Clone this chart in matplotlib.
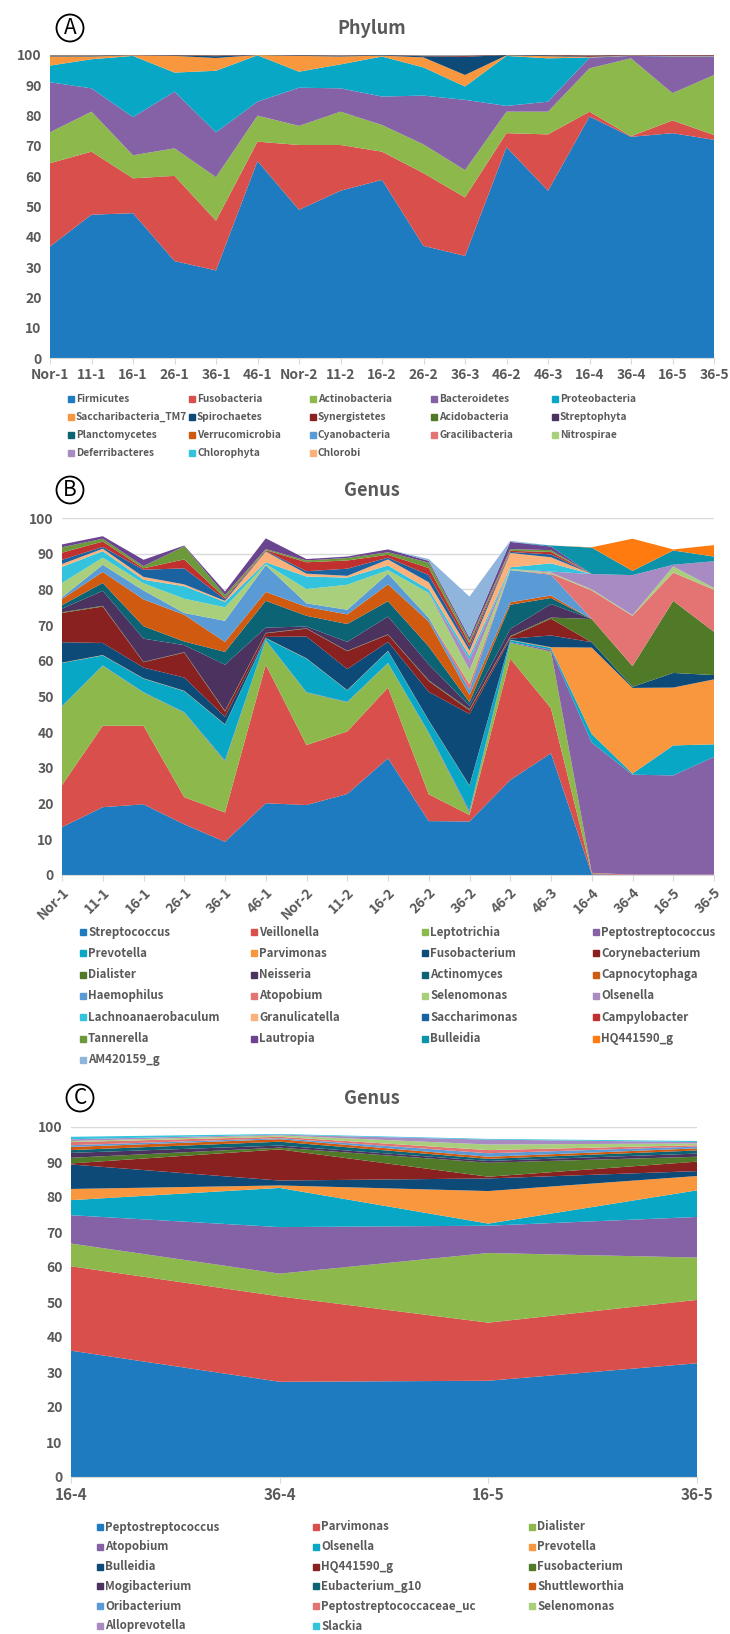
import numpy as np
import matplotlib
matplotlib.use('Agg')
import matplotlib.pyplot as plt
from matplotlib.patches import Rectangle

plt.rcParams['font.family'] = ['Noto Sans CJK SC', 'DejaVu Sans']

# ── shared palette (Excel-like series order) ────────────────────────────────
PALETTE = [
    '#1F7BBF', '#D94F4B', '#8DB94C', '#8562A6', '#08A7C6', '#F9973F',
    '#0E4A78', '#8A2121', '#507A28', '#4B325F', '#0B6373', '#D05A10',
    '#5A9BD5', '#E47474', '#A9CF7C', '#A88BC2', '#33C3DD', '#FCB07A',
    '#1B62A0', '#C0302E', '#6C9A3A', '#6B4490', '#0C93AA', '#FF7B0F',
    '#8FB5DD',
]
TEXT = '#595959'
GRID = '#D9D9D9'

# ── panel A: phylum ─────────────────────────────────────────────────────────
samples_a = ['Nor-1', '11-1', '16-1', '26-1', '36-1', '46-1', 'Nor-2', '11-2',
             '16-2', '26-2', '36-3', '46-2', '46-3', '16-4', '36-4', '16-5', '36-5']

firmicutes      = [36.8, 47.3, 47.8, 32.0, 28.9, 65.0, 48.9, 55.2, 58.8, 37.0, 33.7, 69.6, 55.2, 79.7, 73.0, 74.2, 72.0]
fusobacteria    = [27.5, 20.8, 11.5, 28.1, 16.4, 6.4, 21.4, 15.1, 9.3, 24.0, 19.3, 4.6, 18.6, 1.6, 0.2, 4.2, 1.6]
actinobacteria  = [10.2, 13.2, 7.6, 9.1, 14.4, 8.6, 6.3, 11.0, 8.8, 9.5, 9.0, 7.1, 7.5, 14.3, 25.7, 9.0, 19.8]
bacteroidetes   = [16.5, 7.7, 12.6, 18.7, 14.8, 4.6, 12.6, 7.7, 9.4, 16.1, 23.2, 1.9, 3.3, 3.5, 0.8, 12.1, 6.1]
proteobacteria  = [5.5, 9.6, 20.2, 6.3, 20.3, 15.3, 5.3, 7.9, 13.2, 9.3, 4.4, 16.5, 14.3, 0.1, 0.05, 0.1, 0.1]
tm7             = [3.0, 0.9, 0.2, 5.5, 4.2, 0.1, 5.2, 2.6, 0.3, 3.3, 3.8, 0.2, 0.7, 0.1, 0.1, 0.1, 0.1]
spirochaetes    = [0.2, 0.2, 0.05, 0.2, 0.6, 0.05, 0.2, 0.2, 0.2, 0.4, 6.0, 0.1, 0.3, 0.1, 0.05, 0.1, 0.1]
synergistetes   = [0.1, 0.1, 0.05, 0.1, 0.2, 0.05, 0.1, 0.1, 0.05, 0.1, 0.3, 0.05, 0.1, 0.4, 0.1, 0.3, 0.2]
minor_phylum    = [0.03] * 17   # Acidobacteria ... Chlorobi, each a trace

phyla = ['Firmicutes', 'Fusobacteria', 'Actinobacteria', 'Bacteroidetes', 'Proteobacteria',
         'Saccharibacteria_TM7', 'Spirochaetes', 'Synergistetes', 'Acidobacteria', 'Streptophyta',
         'Planctomycetes', 'Verrucomicrobia', 'Cyanobacteria', 'Gracilibacteria', 'Nitrospirae',
         'Deferribacteres', 'Chlorophyta', 'Chlorobi']
phylum_values = [firmicutes, fusobacteria, actinobacteria, bacteroidetes, proteobacteria,
                 tm7, spirochaetes, synergistetes] + [minor_phylum] * 10

# ── panel B: genus, all samples ─────────────────────────────────────────────
samples_b = ['Nor-1', '11-1', '16-1', '26-1', '36-1', '46-1', 'Nor-2', '11-2',
             '16-2', '26-2', '36-2', '46-2', '46-3', '16-4', '36-4', '16-5', '36-5']

streptococcus     = [13.4, 19.0, 19.8, 14.2, 9.3, 20.1, 19.6, 22.7, 32.7, 15.1, 15.0, 26.6, 34.1, 0.2, 0, 0, 0]
veillonella       = [11.8, 22.8, 22.0, 7.6, 8.2, 38.8, 16.8, 17.5, 19.8, 7.5, 1.8, 34.0, 12.6, 0.3, 0.1, 0.1, 0.1]
leptotrichia      = [22.0, 16.8, 9.3, 23.7, 14.3, 6.8, 14.7, 8.2, 6.8, 17.1, 0.7, 4.4, 15.9, 0.1, 0, 0, 0]
peptostrep_b      = [0.1, 0.1, 0.1, 0.1, 0.3, 0.1, 0.1, 0.1, 0.1, 0.2, 0.5, 0.2, 0.5, 36.5, 28.0, 27.8, 33.0]
prevotella_b      = [12.1, 2.8, 3.8, 5.9, 10.0, 0.5, 9.4, 3.2, 3.3, 3.3, 7.0, 0.6, 0.5, 2.4, 0.3, 8.4, 3.5]
parvimonas_b      = [0.1, 0.1, 0.1, 0.1, 0.1, 0.1, 0.1, 0.1, 0.1, 0.1, 0.1, 0.1, 0.2, 24.2, 24.0, 16.2, 18.2]
fusobacterium_b   = [5.7, 3.4, 3.0, 3.7, 2.1, 0.3, 6.1, 5.9, 2.5, 8.0, 20.0, 0.3, 3.3, 1.5, 0.3, 4.1, 1.2]
corynebacterium   = [8.2, 10.2, 1.5, 7.0, 1.5, 1.0, 2.2, 5.0, 2.0, 3.0, 1.0, 0.5, 4.7, 0, 0, 0, 0]
dialister_b       = [0.2, 0.2, 0.1, 0.1, 0.2, 0.1, 0.1, 0.1, 0.1, 0.2, 0.3, 0.2, 0.3, 6.5, 5.8, 20.2, 12.1]
neisseria         = [1.0, 4.2, 6.5, 2.0, 12.9, 1.5, 0.5, 2.5, 5.0, 4.5, 1.0, 2.0, 3.8, 0, 0, 0, 0]
actinomyces       = [1.0, 2.2, 3.5, 1.0, 3.6, 7.5, 3.0, 5.0, 4.3, 5.0, 1.0, 6.8, 1.7, 0, 0, 0, 0]
capnocytophaga    = [1.7, 3.1, 7.5, 7.5, 2.8, 2.5, 2.5, 2.7, 4.7, 7.0, 2.0, 0.7, 0.7, 0, 0, 0, 0]
haemophilus       = [0.5, 2.0, 2.5, 0.5, 5.9, 7.5, 1.0, 1.3, 3.0, 1.0, 1.5, 9.0, 5.8, 0, 0, 0, 0]
atopobium_b       = [0, 0, 0, 0, 0, 0, 0, 0, 0, 0, 1.5, 0, 0.3, 8.0, 14.1, 7.9, 11.8]
selenomonas_b     = [4.0, 2.0, 2.0, 4.0, 3.8, 0.3, 4.0, 7.0, 1.0, 7.0, 4.0, 0.3, 0.3, 0.3, 0.2, 1.7, 0.5]
olsenella_b       = [0, 0, 0, 0, 0, 0, 0, 0, 0, 0, 3.0, 0, 0.3, 4.3, 11.2, 0.5, 7.5]
lachnoanaerob     = [4.5, 1.8, 1.0, 3.5, 1.5, 0.5, 3.5, 2.0, 1.3, 1.0, 1.0, 0.5, 2.3, 0, 0, 0, 0]
granulicatella    = [0.8, 0.7, 0.8, 0.5, 0.3, 3.0, 0.8, 0.5, 1.7, 2.0, 1.5, 4.0, 1.7, 0, 0, 0, 0]
saccharimonas     = [1.2, 0.5, 2.0, 4.5, 0.4, 0.2, 0.7, 2.0, 0.5, 2.0, 1.0, 0.3, 0.8, 0, 0, 0, 0]
campylobacter     = [2.0, 1.5, 0.4, 2.5, 0.4, 0.2, 2.5, 2.3, 0.8, 2.0, 1.0, 0.3, 0.7, 0, 0, 0, 0]
tannerella        = [1.5, 0.8, 0.6, 3.7, 0.8, 0.3, 0.5, 0.7, 0.7, 1.5, 0.8, 0.5, 0.5, 0, 0, 0, 0]
lautropia         = [0.8, 0.7, 1.8, 0.2, 1.0, 3.0, 0.4, 0.4, 0.8, 0.5, 0.8, 2.0, 1.0, 0, 0, 0, 0]
bulleidia_b       = [0, 0, 0, 0, 0, 0, 0, 0, 0, 0, 0, 0, 0.3, 7.4, 1.2, 4.0, 1.3]
hq441590_b        = [0, 0, 0, 0, 0, 0, 0, 0, 0, 0, 0, 0, 0, 0.1, 9.0, 0.3, 3.2]
am420159          = [0, 0, 0, 0, 0, 0, 0, 0, 0, 0.5, 11.5, 0.3, 0, 0, 0, 0, 0]

genera_b = ['Streptococcus', 'Veillonella', 'Leptotrichia', 'Peptostreptococcus', 'Prevotella',
            'Parvimonas', 'Fusobacterium', 'Corynebacterium', 'Dialister', 'Neisseria',
            'Actinomyces', 'Capnocytophaga', 'Haemophilus', 'Atopobium', 'Selenomonas',
            'Olsenella', 'Lachnoanaerobaculum', 'Granulicatella', 'Saccharimonas', 'Campylobacter',
            'Tannerella', 'Lautropia', 'Bulleidia', 'HQ441590_g', 'AM420159_g']
genus_b_values = [streptococcus, veillonella, leptotrichia, peptostrep_b, prevotella_b,
                  parvimonas_b, fusobacterium_b, corynebacterium, dialister_b, neisseria,
                  actinomyces, capnocytophaga, haemophilus, atopobium_b, selenomonas_b,
                  olsenella_b, lachnoanaerob, granulicatella, saccharimonas, campylobacter,
                  tannerella, lautropia, bulleidia_b, hq441590_b, am420159]

# ── panel C: genus, samples 16-4 .. 36-5 ────────────────────────────────────
samples_c = ['16-4', '36-4', '16-5', '36-5']

peptostrep_c   = [36.1, 27.2, 27.5, 32.5]
parvimonas_c   = [24.1, 24.4, 16.6, 18.1]
dialister_c    = [6.5, 6.5, 19.9, 12.1]
atopobium_c    = [8.1, 13.3, 7.8, 11.6]
olsenella_c    = [4.3, 11.2, 0.6, 7.6]
prevotella_c   = [3.2, 0.7, 9.3, 4.1]
bulleidia_c    = [7.0, 1.4, 3.6, 1.4]
hq441590_c     = [0.3, 8.9, 0.5, 2.7]
fusobacterium_c = [1.6, 0.5, 4.0, 1.4]
mogibacterium  = [1.4, 0.6, 0.5, 0.9]
eubacterium    = [0.8, 1.1, 0.6, 0.9]
shuttleworthia = [0.9, 0.7, 0.6, 0.6]
oribacterium   = [0.5, 0.3, 1.0, 0.5]
peptostrep_uc  = [0.9, 0.4, 0.9, 0.4]
selenomonas_c  = [0.3, 0.4, 1.6, 0.5]
alloprevotella = [0.5, 0.2, 1.4, 0.4]
slackia        = [0.7, 0.2, 0.2, 0.3]

genera_c = ['Peptostreptococcus', 'Parvimonas', 'Dialister', 'Atopobium', 'Olsenella',
            'Prevotella', 'Bulleidia', 'HQ441590_g', 'Fusobacterium', 'Mogibacterium',
            'Eubacterium_g10', 'Shuttleworthia', 'Oribacterium', 'Peptostreptococcaceae_uc',
            'Selenomonas', 'Alloprevotella', 'Slackia']
genus_c_values = [peptostrep_c, parvimonas_c, dialister_c, atopobium_c, olsenella_c,
                  prevotella_c, bulleidia_c, hq441590_c, fusobacterium_c, mogibacterium,
                  eubacterium, shuttleworthia, oribacterium, peptostrep_uc, selenomonas_c,
                  alloprevotella, slackia]

# ── layout helpers (pixel coordinates, origin top-left) ─────────────────────
W, H = 730, 1634
fig = plt.figure(figsize=(W / 100, H / 100), dpi=100)


def fx(x):
    return x / W


def fy(y):
    return 1 - y / H


def add_panel(left, top, right, bottom):
    return fig.add_axes([fx(left), fy(bottom), (right - left) / W, (bottom - top) / H])


def area_panel(ax, labels, values, rot=0, xfs=10):
    x = np.arange(len(labels))
    ax.stackplot(x, np.array(values, dtype=float), colors=PALETTE[:len(values)], lw=0)
    ax.set_xlim(0, len(labels) - 1)
    ax.set_ylim(0, 100)
    ax.set_yticks(np.arange(0, 101, 10))
    ax.yaxis.grid(True, color=GRID, lw=1)
    ax.set_axisbelow(True)
    for s in ('top', 'right', 'left'):
        ax.spines[s].set_visible(False)
    ax.spines['bottom'].set_color(GRID)
    ax.tick_params(axis='y', length=0, labelsize=10, labelcolor=TEXT, pad=6)
    ax.tick_params(axis='x', length=4, color=GRID, labelsize=xfs, labelcolor=TEXT)
    ax.set_xticks(x)
    if rot:
        ax.set_xticklabels(labels, rotation=rot, ha='right', rotation_mode='anchor')
    else:
        ax.set_xticklabels(labels)
    for t in ax.get_xticklabels() + ax.get_yticklabels():
        t.set_fontweight('bold')


def grid_legend(names, x0, y0, dx, dy, ncol, fs):
    for i, name in enumerate(names):
        r, c = divmod(i, ncol)
        x, y = x0 + c * dx, y0 + r * dy
        fig.patches.append(Rectangle((fx(x - 3), fy(y + 3)), 6 / W, 6 / H,
                                     transform=fig.transFigure, color=PALETTE[i]))
        fig.text(fx(x + 5), fy(y), name, fontsize=fs, color=TEXT,
                 fontweight='bold', va='center', ha='left')


def header(letter, lx, title, ty):
    fig.text(fx(lx), fy(ty), letter, fontsize=15, ha='center', va='center', color='black',
             bbox=dict(boxstyle='circle,pad=0.12', fc='white', ec='black', lw=1.3))
    fig.text(fx(372), fy(ty), title, fontsize=13, ha='center', va='center',
             color=TEXT, fontweight='bold')


# ── A ────────────────────────────────────────────────────────────────────────
header('A', 70, 'Phylum', 28)
ax_a = add_panel(50, 55, 714, 358)
area_panel(ax_a, samples_a, phylum_values)
grid_legend(phyla, 71, 399, 121, 18.1, 5, 7.3)

# ── B ────────────────────────────────────────────────────────────────────────
header('B', 70, 'Genus', 490)
ax_b = add_panel(62, 518, 714, 875)
area_panel(ax_b, samples_b, genus_b_values, rot=45)
grid_legend(genera_b, 83, 932, 171, 21.3, 4, 8.3)

# ── C ────────────────────────────────────────────────────────────────────────
header('C', 80, 'Genus', 1098)
ax_c = add_panel(71, 1127, 697, 1477)
area_panel(ax_c, samples_c, genus_c_values, xfs=11)
grid_legend(genera_c, 100, 1527, 216, 19.8, 3, 8.3)

fig.savefig('out.png', dpi=100, facecolor='white')
